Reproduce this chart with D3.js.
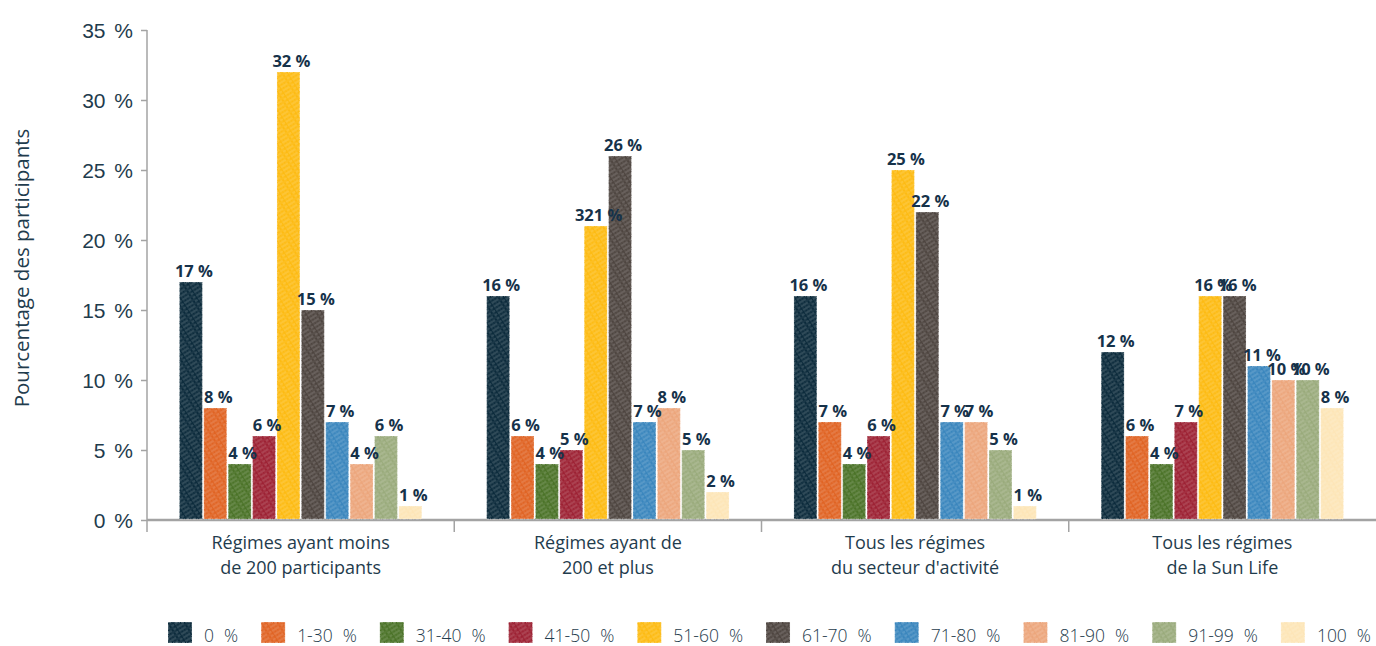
<!DOCTYPE html>
<html lang="fr">
<head>
<meta charset="utf-8">
<script src="https://cdn.jsdelivr.net/npm/d3@7/dist/d3.min.js"></script>
<style>
  html, body { margin: 0; padding: 0; background: #fff; }
  svg { display: block; font-family: "Open Sans", "Noto Sans", sans-serif; }
</style>
</head>
<body>
<svg id="chart" width="1376" height="646"></svg>
<script>
// Tranches de taux de cotisation (légende)
const series = ["0 %", "1-30 %", "31-40 %", "41-50 %", "51-60 %", "61-70 %", "71-80 %", "81-90 %", "91-99 %", "100 %"];
const colors = ["#0c2b3c", "#e06424", "#4b7328", "#9d2234", "#fdbb13", "#4e4540", "#3a86bd", "#eca67c", "#9aab7c", "#fde5b7"];

// Groupes de régimes (deux lignes par étiquette)
const groups = [
  ["Régimes ayant moins", "de 200 participants"],
  ["Régimes ayant de", "200 et plus"],
  ["Tous les régimes", "du secteur d'activité"],
  ["Tous les régimes", "de la Sun Life"]
];

// Pourcentage des participants, une liste par groupe
const small = [17, 8, 4, 6, 32, 15, 7, 4, 6, 1];
const large = [16, 6, 4, 5, 21, 26, 7, 8, 5, 2];
const industry = [16, 7, 4, 6, 25, 22, 7, 7, 5, 1];
const sunLife = [12, 6, 4, 7, 16, 16, 11, 10, 10, 8];
const values = [small, large, industry, sunLife];

// Étiquettes affichées au-dessus des barres (texte tel que publié)
const largeLabels = ["16 %", "6 %", "4 %", "5 %", "321 %", "26 %", "7 %", "8 %", "5 %", "2 %"];

const yTicks = [0, 5, 10, 15, 20, 25, 30, 35];

const svg = d3.select("#chart");
const margin = { left: 147, right: 0, top: 30, bottom: 126 };
const W = 1376, H = 646;
const baseY = H - margin.bottom;

const y = d3.scaleLinear().domain([0, 35]).range([baseY, margin.top]);
const x0 = d3.scaleBand().domain(d3.range(groups.length)).range([margin.left, W - margin.right]);
const x1 = d3.scaleBand().domain(series).range([0, x0.bandwidth()]).paddingInner(0.06).paddingOuter(1.33);

// Motifs hachurés façon crayon
const defs = svg.append("defs");
colors.forEach((c, i) => {
  const p = defs.append("pattern")
    .attr("id", "hatch" + i)
    .attr("patternUnits", "userSpaceOnUse")
    .attr("width", 14).attr("height", 4)
    .attr("patternTransform", "rotate(-32)");
  p.append("rect").attr("width", 14).attr("height", 4).attr("fill", c);
  p.append("line").attr("x1", 0).attr("x2", 14).attr("y1", 1).attr("y2", 1)
    .attr("stroke", "#fff").attr("stroke-opacity", 0.42).attr("stroke-width", 0.7)
    .attr("stroke-dasharray", "5 2 3 1");
  p.append("line").attr("x1", 0).attr("x2", 14).attr("y1", 3).attr("y2", 3)
    .attr("stroke", "#fff").attr("stroke-opacity", 0.24).attr("stroke-width", 0.5)
    .attr("stroke-dasharray", "2 1 6 2");
});

// Axe vertical
const yAxis = d3.axisLeft(y).tickValues(yTicks).tickSize(6).tickPadding(9)
  .tickFormat(d => d + " %");
const gy = svg.append("g").attr("transform", `translate(${margin.left},0)`).call(yAxis);
gy.select(".domain").remove();
gy.selectAll(".tick line").attr("stroke", "#a3a3a3").attr("stroke-width", 1.5);
gy.selectAll(".tick text")
  .attr("fill", "#1f3c4d").attr("font-size", 21).attr("font-weight", 300)
  .attr("x", -14).attr("dy", "0.36em").style("word-spacing", "3px");
svg.append("line")
  .attr("x1", margin.left).attr("x2", margin.left)
  .attr("y1", y(35)).attr("y2", baseY + 12)
  .attr("stroke", "#a3a3a3").attr("stroke-width", 1.5);

// Titre de l'axe vertical
svg.append("text")
  .attr("transform", `translate(29,268) rotate(-90)`)
  .attr("text-anchor", "middle")
  .attr("fill", "#1f3c4d").attr("font-size", 20.5)
  .text("Pourcentage des participants");

// Ligne de base et séparateurs de groupes
svg.append("line")
  .attr("x1", margin.left).attr("x2", W)
  .attr("y1", baseY).attr("y2", baseY)
  .attr("stroke", "#a3a3a3").attr("stroke-width", 2.5);
d3.range(1, groups.length).forEach(i => {
  svg.append("line")
    .attr("x1", x0(i)).attr("x2", x0(i))
    .attr("y1", baseY).attr("y2", baseY + 12)
    .attr("stroke", "#a3a3a3").attr("stroke-width", 1.5);
});

// Barres
const gGroups = svg.selectAll("g.grp").data(values).join("g")
  .attr("class", "grp")
  .attr("transform", (d, i) => `translate(${x0(i)},0)`);

gGroups.selectAll("rect.bar")
  .data(d => d.map((v, j) => ({ v, j })))
  .join("rect")
  .attr("class", "bar")
  .attr("x", d => x1(series[d.j]))
  .attr("width", x1.bandwidth())
  .attr("y", d => y(d.v))
  .attr("height", d => baseY - 1 - y(d.v))
  .attr("fill", d => `url(#hatch${d.j})`)
  .attr("stroke", "#fff").attr("stroke-opacity", 0.55)
  .attr("stroke-width", 0.8).attr("stroke-dasharray", "3 1.5 1 1");

// Valeurs au-dessus des barres
gGroups.selectAll("text.val")
  .data((d, i) => d.map((v, j) => ({ v, j, t: i === 1 ? largeLabels[j] : v + " %" })))
  .join("text")
  .attr("class", "val")
  .attr("x", d => x1(series[d.j]) + x1.bandwidth() / 2 + 3)
  .attr("y", d => y(d.v) - 5)
  .attr("text-anchor", "middle")
  .attr("fill", "#16324a").attr("font-size", 16.5).attr("font-weight", 700)
  .text(d => d.t);

// Étiquettes des groupes
groups.forEach((lines, i) => {
  const t = svg.append("text")
    .attr("x", x0(i) + x0.bandwidth() / 2)
    .attr("y", 549)
    .attr("text-anchor", "middle")
    .attr("fill", "#1f3c4d").attr("font-size", 18);
  lines.forEach((l, k) => {
    t.append("tspan").attr("x", x0(i) + x0.bandwidth() / 2)
      .attr("dy", k === 0 ? 0 : 25).text(l);
  });
});

// Légende
const legend = svg.append("g");
let lx = 168;
series.forEach((s, i) => {
  const g = legend.append("g").attr("transform", `translate(${lx},0)`);
  g.append("rect").attr("x", 0).attr("y", 622).attr("width", 24).attr("height", 21)
    .attr("fill", `url(#hatch${i})`)
    .attr("stroke", "#fff").attr("stroke-opacity", 0.55)
    .attr("stroke-width", 0.8).attr("stroke-dasharray", "3 1.5 1 1");
  const parts = s.split(" ");
  const txt = g.append("text").attr("x", 36).attr("y", 642)
    .attr("fill", "#1f3c4d").attr("font-size", 17.5).attr("font-weight", 300);
  txt.append("tspan").text(parts[0]);
  txt.append("tspan").attr("dx", 10).text(parts[1]);
  lx += 36 + txt.node().getComputedTextLength() + 10 + 23;
});
</script>
</body>
</html>
